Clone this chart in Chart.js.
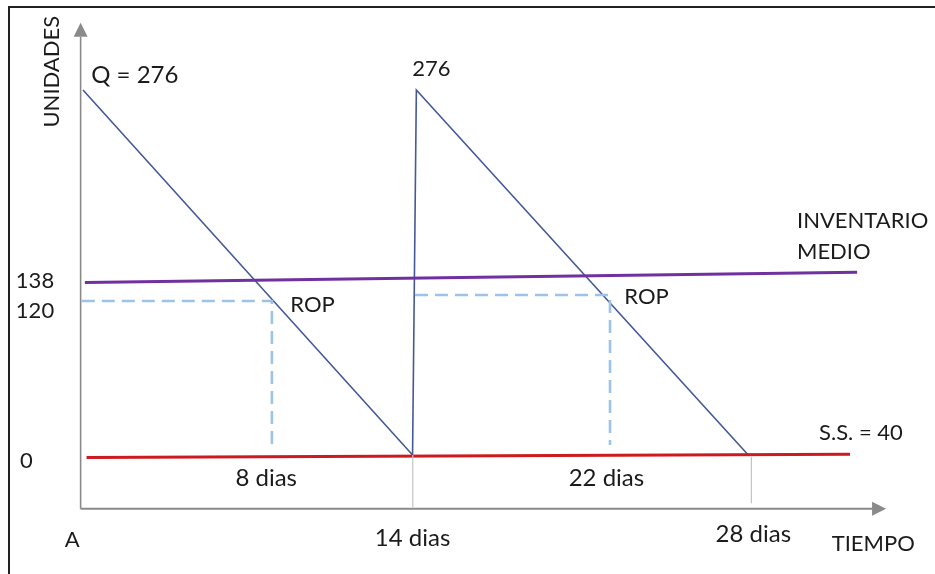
<!DOCTYPE html>
<html>
<head>
<meta charset="utf-8">
<script src="https://cdn.jsdelivr.net/npm/chart.js@4.4.1/dist/chart.umd.min.js"></script>
<style>
  html, body { margin: 0; padding: 0; background: #ffffff; }
  canvas { display: block; }
</style>
</head>
<body>
<canvas id="c" width="935" height="574"></canvas>
<script>
// ---- data (days on x, units on y) ----
const stockDays  = [0, 13.87, 14.03, 28.0];
const stockUnits = [276, 0, 276, 0];

const avgDays  = [0.08, 32.58];
const avgUnits = [130.4, 138.1];

const ssDays  = [0.15, 32.28];
const ssUnits = [-1.9, 0.5];

const rop1Days  = [-0.05, 7.95, 7.95];
const rop1Units = [116.4, 116.4, 6.3];
const rop2Days  = [13.97, 22.18, 22.18];
const rop2Units = [121, 121, 7.6];

const guide1Days  = [13.88, 13.88];
const guide1Units = [0, -39.5];
const guide2Days  = [28.13, 28.13];
const guide2Units = [-1.5, -36.4];

const yAxisDays  = [-0.1, -0.1];
const yAxisUnits = [-40.6, 316.3];
const xAxisDays  = [-0.1, 33.21];
const xAxisUnits = [-40.6, -40.6];

// text labels, anchored at (day, units)
const labelTexts = ["Q = 276", "276", "138", "120", "ROP", "ROP", "S.S. = 40", "0",
                    "8 dias", "22 dias", "14 dias", "28 dias", "TIEMPO", "A"];
const labelDays  = [2.18, 14.66, -2.02, -2.02, 9.66, 23.72, 32.74, -2.38,
                    7.71, 22.03, 13.87, 28.21, 33.26, -0.45];
const labelUnits = [287.3, 291.9, 131.6, 108.9, 113.4, 119.7, 17.0, -4.5,
                    -17.4, -17.4, -62.8, -59.7, -67.1, -64.3];
const avgLabelLines = ["INVENTARIO", "MEDIO"];
const avgLabelDay = 30.05;
const avgLabelUnits = [176.9, 153.7];
const yTitle = "UNIDADES";
const yTitleDay = -1.30, yTitleUnits = 289.8;

function pts(xs, ys) { return xs.map((x, i) => ({ x: x, y: ys[i] })); }

const FONT = "Lato, 'Open Sans', sans-serif";
const TEXT = "#1b1b1b";

const decorPlugin = {
  id: 'decor',
  beforeDraw(chart) {
    const ctx = chart.ctx;
    ctx.save();
    ctx.fillStyle = '#ffffff';
    ctx.fillRect(0, 0, chart.width, chart.height);
    // frame (top and left)
    ctx.fillStyle = '#222222';
    ctx.fillRect(8, 6, chart.width - 8, 2);
    ctx.fillRect(8, 6, 2, chart.height - 6);
    ctx.restore();
  },
  afterDatasetsDraw(chart) {
    const ctx = chart.ctx;
    const xs = chart.scales.x, ys = chart.scales.y;
    ctx.save();
    // arrow heads
    ctx.fillStyle = '#8a8a8a';
    let tx = xs.getPixelForValue(yAxisDays[1]);
    let ty = ys.getPixelForValue(yAxisUnits[1]);
    ctx.beginPath();
    ctx.moveTo(tx, ty - 14);
    ctx.lineTo(tx - 7, ty);
    ctx.lineTo(tx + 7, ty);
    ctx.closePath();
    ctx.fill();
    tx = xs.getPixelForValue(xAxisDays[1]);
    ty = ys.getPixelForValue(xAxisUnits[1]);
    ctx.beginPath();
    ctx.moveTo(tx + 14, ty);
    ctx.lineTo(tx, ty - 7);
    ctx.lineTo(tx, ty + 7);
    ctx.closePath();
    ctx.fill();

    // labels
    ctx.fillStyle = TEXT;
    ctx.textBaseline = 'middle';
    ctx.textAlign = 'center';
    labelTexts.forEach((t, i) => {
      const big = /dias|Q =/.test(t);
      ctx.font = (big ? 24 : 22) + 'px ' + FONT;
      ctx.fillText(t, xs.getPixelForValue(labelDays[i]), ys.getPixelForValue(labelUnits[i]));
    });
    ctx.font = '22px ' + FONT;
    ctx.textAlign = 'left';
    avgLabelLines.forEach((t, i) => {
      ctx.fillText(t, xs.getPixelForValue(avgLabelDay), ys.getPixelForValue(avgLabelUnits[i]));
    });
    // rotated y title
    ctx.translate(xs.getPixelForValue(yTitleDay), ys.getPixelForValue(yTitleUnits));
    ctx.rotate(-Math.PI / 2);
    ctx.textAlign = 'center';
    ctx.font = '22px ' + FONT;
    ctx.fillText(yTitle, 0, 0);
    ctx.restore();
  }
};

const common = { pointRadius: 0, pointHoverRadius: 0, tension: 0, fill: false, clip: false };

new Chart(document.getElementById('c'), {
  type: 'line',
  data: {
    datasets: [
      Object.assign({ data: pts(guide1Days, guide1Units), borderColor: '#c4c4c4', borderWidth: 1.2 }, common),
      Object.assign({ data: pts(guide2Days, guide2Units), borderColor: '#c4c4c4', borderWidth: 1.2 }, common),
      Object.assign({ data: pts(yAxisDays, yAxisUnits), borderColor: '#8a8a8a', borderWidth: 1.6 }, common),
      Object.assign({ data: pts(xAxisDays, xAxisUnits), borderColor: '#8a8a8a', borderWidth: 2 }, common),
      Object.assign({ data: pts(rop1Days, rop1Units), borderColor: '#9dc3e6', borderWidth: 2.6, borderDash: [13, 7] }, common),
      Object.assign({ data: pts(rop2Days, rop2Units), borderColor: '#9dc3e6', borderWidth: 2.6, borderDash: [13, 7] }, common),
      Object.assign({ data: pts(avgDays, avgUnits), borderColor: '#7030a0', borderWidth: 3 }, common),
      Object.assign({ data: pts(ssDays, ssUnits), borderColor: '#cc1a1f', borderWidth: 3 }, common),
      Object.assign({ data: pts(stockDays, stockUnits), borderColor: '#44599a', borderWidth: 1.6 }, common)
    ]
  },
  options: {
    responsive: false,
    animation: false,
    events: [],
    layout: { padding: { left: 78, right: 40, top: 20, bottom: 63 } },
    plugins: { legend: { display: false }, tooltip: { enabled: false }, title: { display: false } },
    scales: {
      x: { type: 'linear', min: -0.2104, max: 34.175, display: false },
      y: { type: 'linear', min: -42.34, max: 328.9, display: false }
    }
  },
  plugins: [decorPlugin]
});
</script>
</body>
</html>
